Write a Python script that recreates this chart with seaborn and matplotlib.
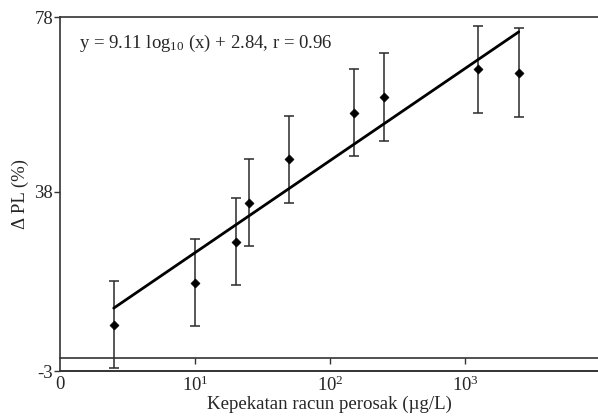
import matplotlib
matplotlib.use("Agg")
import matplotlib.pyplot as plt
import seaborn as sns
import numpy as np
import pandas as pd

# data
conc = [2.5, 10, 20, 25, 50, 150, 250, 1250, 2500]
delta_pl = [7.6, 17.2, 26.6, 35.5, 45.4, 56.1, 59.7, 66.0, 65.3]
err = [10.0, 10.0, 10.0, 10.0, 10.0, 10.0, 10.0, 10.0, 10.2]
fit_x = [2.5, 2500]
fit_slope = 21.07
fit_intercept = 3.0
x_ticks = [1, 10, 100, 1000]
x_ticklabels = ["0", r"$\mathregular{10^1}$", r"$\mathregular{10^2}$", r"$\mathregular{10^3}$"]
y_ticks = [-3, 38, 78]
equation = r"y = 9.11 log$_{\mathregular{10}}$ (x) + 2.84, r = 0.96"

sns.set_style("ticks")
plt.rcParams["font.family"] = ["Liberation Serif", "DejaVu Serif"]
plt.rcParams["mathtext.fontset"] = "custom"
plt.rcParams["mathtext.rm"] = "Liberation Serif"
plt.rcParams["mathtext.it"] = "Liberation Serif:italic"

fig = plt.figure(figsize=(5.98, 4.17), dpi=100)
ax = fig.add_axes([60/598, 1-371/417, 1-60/598, (371-17)/417])

df = pd.DataFrame({"x": conc, "y": delta_pl})
fit_df = pd.DataFrame({"x": fit_x, "y": [fit_slope*np.log10(v)+fit_intercept for v in fit_x]})

ax.errorbar(conc, delta_pl, yerr=err, fmt="none", ecolor="#2a2a2a", elinewidth=1.1,
            capsize=3.5, capthick=1.1, zorder=2)
sns.lineplot(data=fit_df, x="x", y="y", ax=ax, color="black", linewidth=2.0, zorder=3)
sns.scatterplot(data=df, x="x", y="y", ax=ax, marker="D", s=22, color="black",
                edgecolor="black", zorder=4)

ax.set_xscale("log")
ax.set_xlim(1, 10**3.985)
ax.set_ylim(-3, 78)
ax.set_xticks(x_ticks)
ax.set_xticklabels(x_ticklabels)
ax.minorticks_off()
ax.xaxis.set_minor_locator(matplotlib.ticker.NullLocator())
ax.set_yticks(y_ticks)
ax.set_yticklabels([str(v) for v in y_ticks])

ax.spines["right"].set_visible(False)
ax.spines["bottom"].set_position(("data", 0))
for s in ["left", "top", "bottom"]:
    ax.spines[s].set_color("#333333")
    ax.spines[s].set_linewidth(1.2)
ax.axhline(-3, color="#333333", linewidth=1.4, clip_on=False, zorder=1)

ax.tick_params(axis="x", length=4, width=1, color="#333333", pad=9, labelsize=13.5)
ax.tick_params(axis="y", length=4, width=1, color="#333333", pad=1, labelsize=13.5)
ax.xaxis.get_major_ticks()[0].tick1line.set_visible(False)

ax.set_xlabel("Kepekatan racun perosak (\u00b5g/L)", fontsize=13.6, labelpad=0)
ax.set_ylabel("\u0394 PL (%)", fontsize=13.5, labelpad=4)

ax.text(0.035, 0.925, equation, transform=ax.transAxes, fontsize=13.5, ha="left", va="center")

fig.savefig("out.png", dpi=100)
